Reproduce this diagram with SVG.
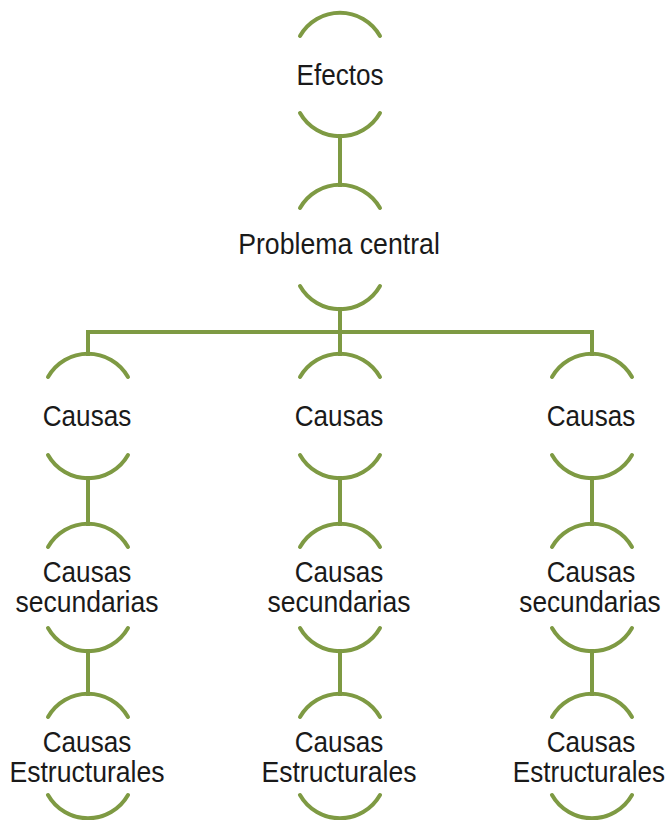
<svg xmlns="http://www.w3.org/2000/svg" width="670" height="820" viewBox="0 0 670 820">
  <style>
    .arc { fill: none; stroke: #7e9a43; stroke-width: 4; stroke-linecap: round; }
    .link { fill: none; stroke: #7e9a43; stroke-width: 4; stroke-linecap: butt; }
    .lbl { font-family: "Liberation Sans", Arial, sans-serif; font-size: 29px; fill: #1a1a1a; text-anchor: middle; }
  </style>
  <defs>
    <!-- paired brackets: upper cap (apex at y=0) and lower cap (bottom at y=0) -->
    <path id="capTop" class="arc" d="M -40 22 A 46 46 0 0 1 40 22"/>
    <path id="capBot" class="arc" d="M -40 -22 A 46 46 0 0 0 40 -22"/>
  </defs>

  <rect width="670" height="820" fill="#ffffff"/>

  <g id="connectors">
    <line class="link" x1="340" y1="134" x2="340" y2="187"/>
    <line class="link" x1="340" y1="307" x2="340" y2="332"/>
    <polyline class="link" points="88,356 88,332 592,332 592,356"/>
    <line class="link" x1="340" y1="332" x2="340" y2="356"/>
    <line class="link" x1="88" y1="476" x2="88" y2="526"/>
    <line class="link" x1="340" y1="476" x2="340" y2="526"/>
    <line class="link" x1="592" y1="476" x2="592" y2="526"/>
    <line class="link" x1="88" y1="649" x2="88" y2="696"/>
    <line class="link" x1="340" y1="649" x2="340" y2="696"/>
    <line class="link" x1="592" y1="649" x2="592" y2="696"/>
  </g>

  <!-- labels use a slightly condensed face: scale(0.91 1) about the anchor -->
  <g id="efectos">
    <use href="#capTop" x="340" y="14"/>
    <text class="lbl" transform="translate(340 85) scale(0.9 1)">Efectos</text>
    <use href="#capBot" x="340" y="135"/>
  </g>

  <g id="problema-central">
    <use href="#capTop" x="340" y="186"/>
    <text class="lbl" transform="translate(339 254) scale(0.92 1)">Problema central</text>
    <use href="#capBot" x="340" y="308"/>
  </g>

  <g id="causas-1">
    <use href="#capTop" x="88" y="355"/>
    <text class="lbl" transform="translate(87 426) scale(0.9 1)">Causas</text>
    <use href="#capBot" x="88" y="477"/>
  </g>
  <g id="causas-2">
    <use href="#capTop" x="340" y="355"/>
    <text class="lbl" transform="translate(339 426) scale(0.9 1)">Causas</text>
    <use href="#capBot" x="340" y="477"/>
  </g>
  <g id="causas-3">
    <use href="#capTop" x="592" y="355"/>
    <text class="lbl" transform="translate(591 426) scale(0.9 1)">Causas</text>
    <use href="#capBot" x="592" y="477"/>
  </g>

  <g id="secundarias-1">
    <use href="#capTop" x="88" y="525"/>
    <text class="lbl" transform="translate(87 582) scale(0.9 1)">Causas</text>
    <text class="lbl" transform="translate(87 612) scale(0.915 1)">secundarias</text>
    <use href="#capBot" x="88" y="650"/>
  </g>
  <g id="secundarias-2">
    <use href="#capTop" x="340" y="525"/>
    <text class="lbl" transform="translate(339 582) scale(0.9 1)">Causas</text>
    <text class="lbl" transform="translate(339 612) scale(0.915 1)">secundarias</text>
    <use href="#capBot" x="340" y="650"/>
  </g>
  <g id="secundarias-3">
    <use href="#capTop" x="592" y="525"/>
    <text class="lbl" transform="translate(591 582) scale(0.9 1)">Causas</text>
    <text class="lbl" transform="translate(590 612) scale(0.905 1)">secundarias</text>
    <use href="#capBot" x="592" y="650"/>
  </g>

  <g id="estructurales-1">
    <use href="#capTop" x="88" y="695"/>
    <text class="lbl" transform="translate(87 752) scale(0.9 1)">Causas</text>
    <text class="lbl" transform="translate(87 782) scale(0.917 1)">Estructurales</text>
    <use href="#capBot" x="88" y="817"/>
  </g>
  <g id="estructurales-2">
    <use href="#capTop" x="340" y="695"/>
    <text class="lbl" transform="translate(339 752) scale(0.9 1)">Causas</text>
    <text class="lbl" transform="translate(339 782) scale(0.917 1)">Estructurales</text>
    <use href="#capBot" x="340" y="817"/>
  </g>
  <g id="estructurales-3">
    <use href="#capTop" x="592" y="695"/>
    <text class="lbl" transform="translate(591 752) scale(0.9 1)">Causas</text>
    <text class="lbl" transform="translate(589 782) scale(0.9 1)">Estructurales</text>
    <use href="#capBot" x="592" y="817"/>
  </g>
</svg>
